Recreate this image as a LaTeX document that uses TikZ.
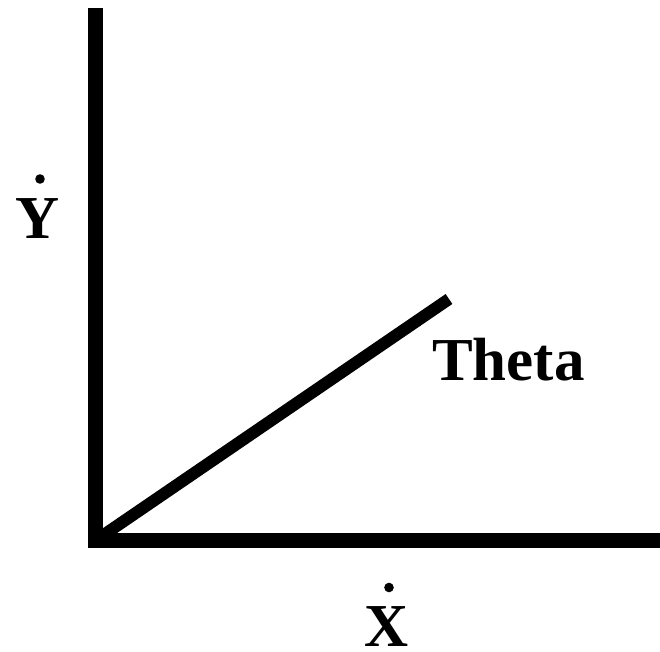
\documentclass[tikz,border=0pt]{standalone}
\usepackage{fontspec}
\setmainfont{Liberation Serif}
\begin{document}
\begin{tikzpicture}[x=1pt,y=-1pt,
  axis/.style={line width=15pt,black},
  ray/.style={line width=12pt,black},
  lbl/.style={font=\fontsize{61}{61}\selectfont\bfseries,inner sep=0pt,anchor=base},
  dotmark/.style={fill=black}]
\useasboundingbox (0,0) rectangle (660,651);
\coordinate (top) at (95.5,8);
\coordinate (O) at (95.5,540.5);
\coordinate (right) at (660,540.5);
\coordinate (end) at (449,299);
\coordinate (Oc) at (88,540.5);
\draw[axis] (top) -- (95.5,548);
\draw[axis] (Oc) -- (right);
\draw[ray] (O) -- (end);
\node[lbl] (ydot) at (38,238) {Y};
\node[lbl] (xdot) at (387,646.5) {X};
\fill[dotmark] ([shift={(2,-59)}]ydot.base) circle[radius=4.8pt];
\fill[dotmark] ([shift={(2,-59)}]xdot.base) circle[radius=4.8pt];
\node[lbl,anchor=base west] (theta) at (432,380) {Theta};
\end{tikzpicture}
\end{document}
